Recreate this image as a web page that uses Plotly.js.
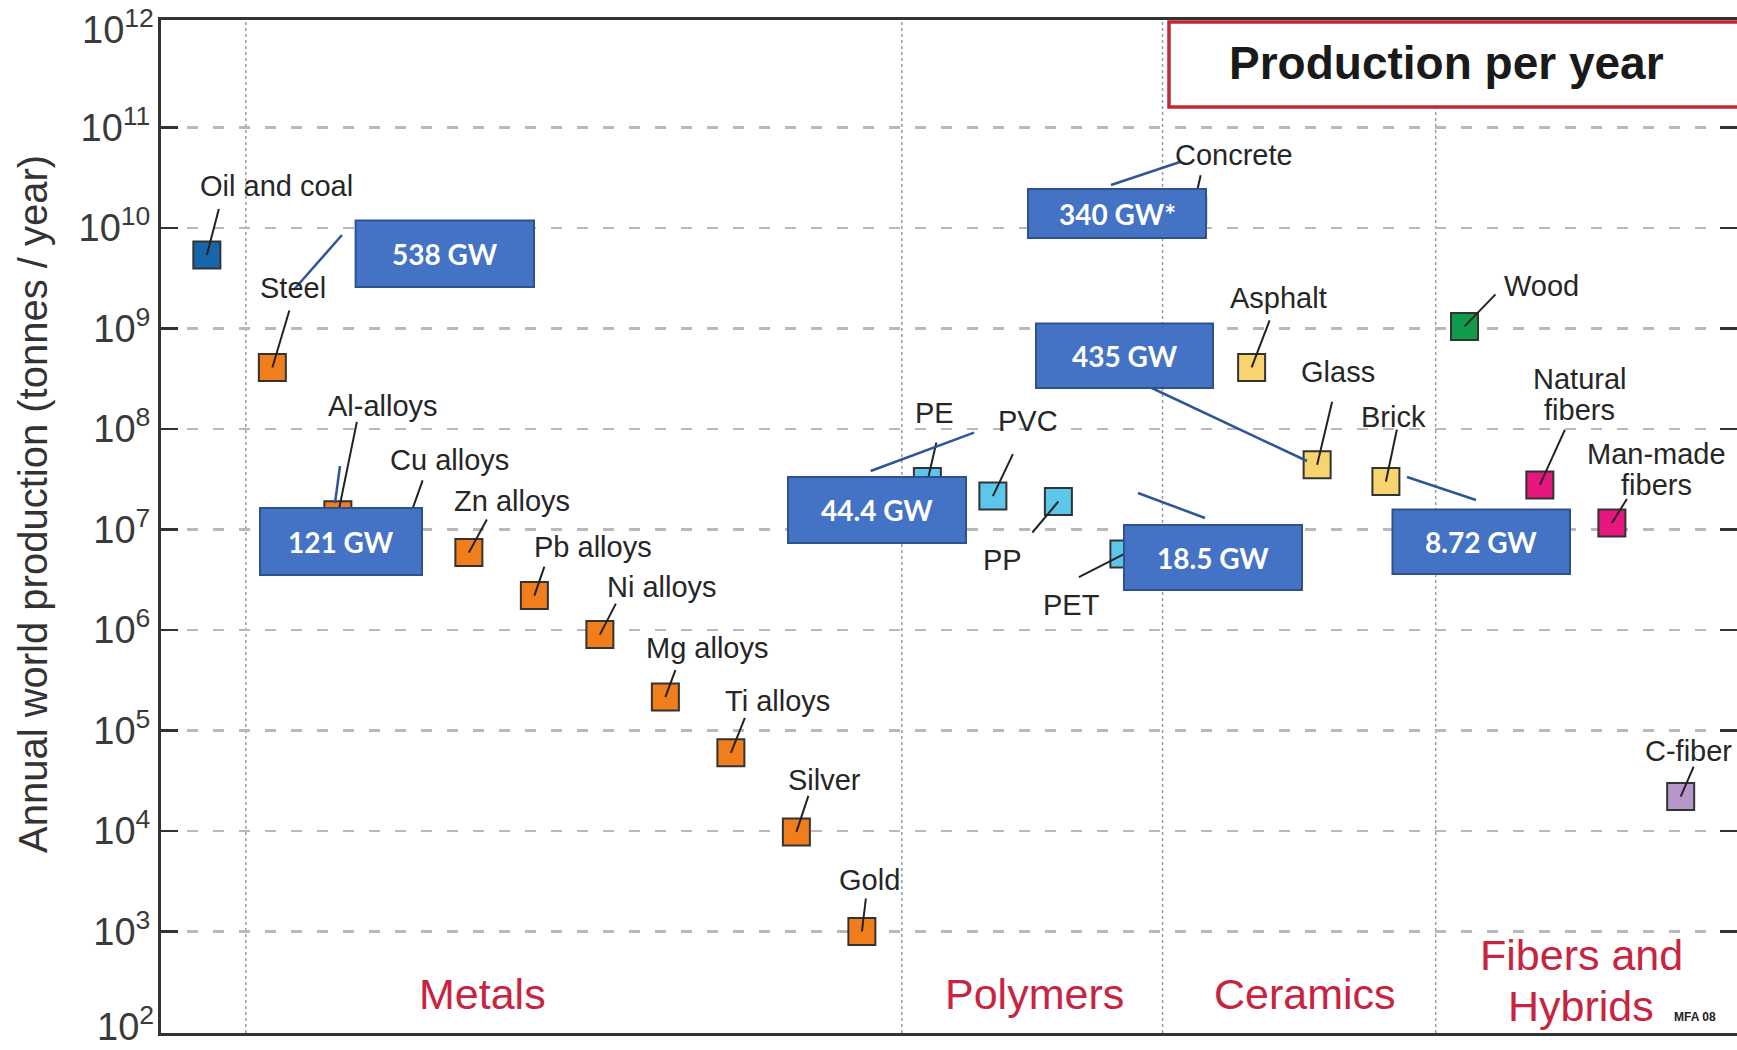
<!DOCTYPE html>
<html>
<head>
<meta charset="utf-8">
<script src="https://cdn.plot.ly/plotly-3.0.1.min.js"></script>
<style>html,body{margin:0;padding:0;background:#fff;overflow:hidden}</style>
</head>
<body>
<div id="chart" style="width:1737px;height:1050px"></div>
<script>
// ---------------- DATA ----------------
const materials = ['Oil and coal','Steel','Al-alloys','Cu alloys','Zn alloys','Pb alloys','Ni alloys','Mg alloys','Ti alloys','Silver','Gold',
  'PE','PVC','PP','PET','Concrete','Asphalt','Glass','Brick','Wood','Natural fibers','Man-made fibers','C-fiber'];
const slot = [0,1,2,3.05,4,5,6,7,8,9,10, 11,12,13,14, 15.05,15.95,16.95,18, 19.2,20.35,21.45,22.5];
const production = [5.4e9,4.1e8,1.4e7,1.1e7,5.9e6,2.2e6,9.0e5,2.15e5,6.0e4,9.8e3,1.0e3,
  3.0e7,2.15e7,1.9e7,5.7e6, 1.5e10,4.1e8,4.4e7,3.0e7, 1.05e9,2.78e7,1.16e7,2.2e4];
const family = ['fuel','metal','metal','metal','metal','metal','metal','metal','metal','metal','metal',
  'polymer','polymer','polymer','polymer','ceramic','ceramic','ceramic','ceramic','wood','fiber','fiber','carbon'];
const groupNames = ['Metals','Polymers','Ceramics','Fibers and|Hybrids'];
const tickPowers = [3,4,5,6,7,8,9,10,11];
const edgePowers = [2,12];
const gwLabels = ['538 GW','121 GW','340 GW*','435 GW','44.4 GW','18.5 GW','8.72 GW'];
const chartTitle = 'Production per year';
const yTitle = 'Annual world production (tonnes / year)';

// ---------------- STYLE / LAYOUT ----------------
const familyColors = {fuel:'#1766AC', metal:'#F07E1C', polymer:'#5CC6EB', ceramic:'#F7D470', wood:'#0F9B49', fiber:'#E6177F', carbon:'#B597C9'};
const W=1737, H=1050, L=161, R=0, T=20, B=17;
const PW=W-L-R, PH=H-T-B;
const px = x => (x-L)/PW;
const py = y => (H-B-y)/PH;
const FONT = 'Liberation Sans, Arial, sans-serif';

// label offsets (text centre shift, leader end) in pixels relative to marker
const labelLayout = {
  'Oil and coal': {t:[70,69], l:[12,46]},
  'Steel': {t:[21,79], l:[17,57]},
  'Al-alloys': {t:[45,109], l:[19,93]},
  'Cu alloys': {t:[43,65], l:[16,45]},
  'Zn alloys': {t:[43,52], l:[18,33]},
  'Pb alloys': {t:[59,49], l:[10,29]},
  'Ni alloys': {t:[62,48], l:[16,31]},
  'Mg alloys': {t:[42,49], l:[10,27]},
  'Ti alloys': {t:[47,52], l:[14,35]},
  'Silver': {t:[28,52], l:[12,36]},
  'Gold': {t:[8,52], l:[4,33]},
  'PE': {t:[7,69], l:[9,39]},
  'PVC': {t:[35,75], l:[20,42]},
  'PP': {t:[-56,-58], l:[-26,-31]},
  'PET': {t:[-52,-51], l:[-45,-23]},
  'Concrete': {t:[41,55], l:[8,35]},
  'Asphalt': {t:[27,69], l:[18,47]},
  'Glass': {t:[21,93], l:[15,63]},
  'Brick': {t:[8,65], l:[11,52]},
  'Wood': {t:[77,40], l:[31,32]},
  'Natural fibers': {lines:['Natural','fibers'], t:[40,106], gap:31, l:[25,55]},
  'Man-made fibers': {lines:['Man-made','fibers'], t:[45,69], gap:31, l:[15,24]},
  'C-fiber': {t:[8,46], l:[13,30]}
};

// blue callout boxes [x0,x1,y0,y1] in pixels, and their pointer lines
const boxes = [
  [355.6,534,220.5,287],[260,422,508,575],[1028,1206,189,238],[1036,1213,323.5,388],
  [788,966,477,543],[1124,1302,525,590],[1392.5,1570,509.6,574]
];
const pointers = [
  [342,235,293.6,290],[340,466,335,503],[1111,185,1180,162],[1122,374,1307,461],
  [870.7,471,974,432.7],[1138,493,1205,518],[1407,477,1476,500]
];
const separators = [0.595,10.61,14.59,18.76];
const groupPos = [[482,994],[1034,994],[1305,994],[1581,955]];

const shapes = [];
const annotations = [];

separators.forEach(s => shapes.push({type:'line', xref:'x', yref:'paper', x0:s, x1:s, y0:0, y1:1,
  line:{color:'#9a9a9a', width:1.5, dash:'dot'}, layer:'below'}));

// black leader lines
materials.forEach((m,i) => {
  const o = labelLayout[m];
  if (o.l[1] >= 0) {
    shapes.push({type:'line', xref:'x', yref:'y', xsizemode:'pixel', ysizemode:'pixel',
      xanchor:slot[i], yanchor:production[i], x0:0, y0:0, x1:o.l[0], y1:o.l[1],
      line:{color:'#222', width:2}, layer:'above'});
  } else {
    shapes.push({type:'path', xref:'x', yref:'y', xsizemode:'pixel', ysizemode:'pixel',
      xanchor:slot[i], yanchor:production[i], path:'M0,0L'+o.l[0]+','+o.l[1],
      line:{color:'#222', width:2}, layer:'above'});
  }
  const lines = o.lines || [m];
  lines.forEach((ln,k) => {
    annotations.push({x:slot[i], y:Math.log10(production[i]), xref:'x', yref:'y',
      xshift:o.t[0], yshift:o.t[1] - k*(o.gap||0), text:ln, showarrow:false,
      xanchor:'center', yanchor:'middle', font:{family:FONT, size:29, color:'#262626'}});
  });
});

// production title box
shapes.push({type:'rect', xref:'paper', yref:'paper', x0:px(1169), x1:px(1748), y0:py(107), y1:py(22),
  line:{color:'#BE2A33', width:3.5}, fillcolor:'#ffffff', layer:'above'});
annotations.push({xref:'paper', yref:'paper', x:px(1446), y:py(63), text:'<b>'+chartTitle+'</b>', showarrow:false,
  xanchor:'center', yanchor:'middle', font:{family:FONT, size:46, color:'#1a1a1a'}});

// blue pointers and boxes
pointers.forEach(p => shapes.push({type:'line', xref:'paper', yref:'paper', x0:px(p[0]), y0:py(p[1]), x1:px(p[2]), y1:py(p[3]),
  line:{color:'#2F5597', width:2.5}, layer:'above'}));
boxes.forEach((b,i) => {
  shapes.push({type:'rect', xref:'paper', yref:'paper', x0:px(b[0]), x1:px(b[1]), y0:py(b[3]), y1:py(b[2]),
    line:{color:'#2F528F', width:2}, fillcolor:'#4472C4', layer:'above'});
  annotations.push({xref:'paper', yref:'paper', x:px((b[0]+b[1])/2), y:py((b[2]+b[3])/2), text:'<b>'+gwLabels[i]+'</b>',
    showarrow:false, xanchor:'center', yanchor:'middle', font:{family:'Lato, Open Sans, sans-serif', size:28, color:'#ffffff'}});
});

// group names
groupNames.forEach((g,i) => {
  g.split('|').forEach((ln,k) => annotations.push({xref:'paper', yref:'paper', x:px(groupPos[i][0]), y:py(groupPos[i][1]+k*51),
    text:ln, showarrow:false, xanchor:'center', yanchor:'middle', font:{family:FONT, size:43, color:'#C8233F'}}));
});
annotations.push({xref:'paper', yref:'paper', x:px(1695), y:py(1017), text:'<b>MFA 08</b>', showarrow:false,
  xanchor:'center', yanchor:'middle', font:{family:FONT, size:12, color:'#222'}});

// y axis title and edge tick labels
annotations.push({xref:'paper', yref:'paper', x:px(33), y:py(504), text:yTitle, textangle:-90, showarrow:false,
  xanchor:'center', yanchor:'middle', font:{family:FONT, size:40, color:'#333'}});
[[edgePowers[0],1024],[edgePowers[1],27]].forEach(e => annotations.push({xref:'paper', yref:'paper', x:px(156), y:py(e[1]),
  text:'10<sup>'+e[0]+'</sup>', showarrow:false, xanchor:'right', yanchor:'middle', font:{family:FONT, size:38, color:'#3a3a3a'}}));

const trace = {
  type:'scatter', mode:'markers', x:slot, y:production, text:materials, hoverinfo:'text',
  marker:{symbol:'square', size:27, color:family.map(f => familyColors[f]), line:{color:'#333', width:2}}
};

const layout = {
  width:W, height:H, margin:{l:L, r:R, t:T, b:B, pad:0},
  paper_bgcolor:'#fff', plot_bgcolor:'#fff', showlegend:false, hovermode:false,
  font:{family:FONT},
  xaxis:{range:[-0.70,23.36], showgrid:false, zeroline:false, showticklabels:false, ticks:'',
    showline:true, linewidth:3, linecolor:'#333', mirror:true, fixedrange:true},
  yaxis:{type:'log', range:[1.99,12.07], tickvals:tickPowers.map(p => Math.pow(10,p)),
    ticktext:tickPowers.map(p => '10<sup>'+p+'</sup>'), tickfont:{family:FONT, size:38, color:'#3a3a3a'},
    ticks:'inside', ticklen:17, tickwidth:2.5, tickcolor:'#333',
    showline:true, linewidth:3, linecolor:'#333', mirror:'ticks',
    showgrid:true, gridcolor:'#b9b9b9', gridwidth:2.5, griddash:'11px,15px', zeroline:false, fixedrange:true},
  shapes:shapes, annotations:annotations
};

Plotly.newPlot('chart', [trace], layout, {displayModeBar:false, staticPlot:true});
</script>
</body>
</html>
